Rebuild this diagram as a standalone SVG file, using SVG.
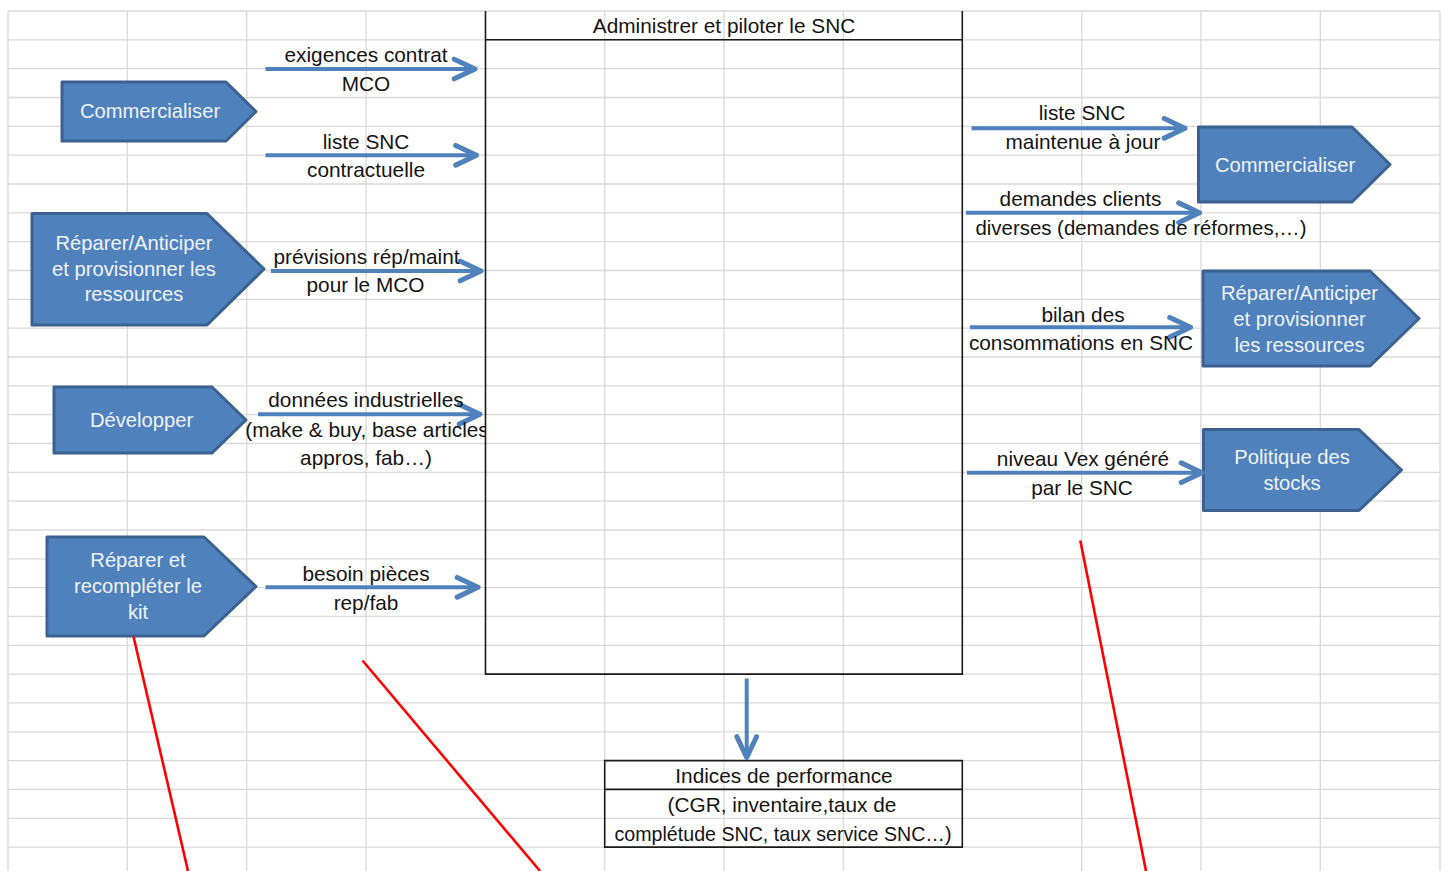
<svg xmlns="http://www.w3.org/2000/svg" width="1448" height="871" viewBox="0 0 1448 871">
  <defs>
    <style>
      .grid line { stroke: #d9d9d9; stroke-width: 1.3; }
      .frame { fill: none; stroke: #1a1a1a; stroke-width: 1.6; }
      .lbl { font-family: "Liberation Sans", Arial, sans-serif; font-size: 20.8px; fill: #141414; text-anchor: middle; }
      .step path { fill: #4f81bd; stroke: #3b6190; stroke-width: 3; stroke-linejoin: round; }
      .step text { font-family: "Liberation Sans", Arial, sans-serif; font-size: 20.2px; fill: #f0f3f8; text-anchor: middle; }
      .flow { fill: none; stroke: #4f81bd; stroke-width: 4; }
      .note { stroke: #ff0000; stroke-width: 2.6; }
    </style>
    <marker id="head" markerUnits="userSpaceOnUse" markerWidth="30" markerHeight="30" viewBox="-22 -12 26 24" refX="0" refY="0" orient="auto">
      <path d="M-18,-8.5 L0,0 L-18,8.5" fill="none" stroke="#4f81bd" stroke-width="4.4" stroke-linejoin="round" stroke-linecap="round"/>
    </marker>
    <clipPath id="boxclip">
      <rect x="0" y="0" width="486" height="871"/>
    </clipPath>
  </defs>

  <rect x="0" y="0" width="1448" height="871" fill="#ffffff"/>

  <!-- spreadsheet grid -->
  <g class="grid">
    <line x1="8" y1="11" x2="8" y2="871"/>
    <line x1="127.3" y1="11" x2="127.3" y2="871"/>
    <line x1="246.7" y1="11" x2="246.7" y2="871"/>
    <line x1="366" y1="11" x2="366" y2="871"/>
    <line x1="604.7" y1="11" x2="604.7" y2="871"/>
    <line x1="724" y1="11" x2="724" y2="871"/>
    <line x1="843.3" y1="11" x2="843.3" y2="871"/>
    <line x1="1081.7" y1="11" x2="1081.7" y2="871"/>
    <line x1="1201" y1="11" x2="1201" y2="871"/>
    <line x1="1320.3" y1="11" x2="1320.3" y2="871"/>
    <line x1="1440" y1="11" x2="1440" y2="871"/>
    <line x1="8" y1="11" x2="1440" y2="11"/>
    <line x1="8" y1="39.8" x2="1440" y2="39.8"/>
    <line x1="8" y1="68.7" x2="1440" y2="68.7"/>
    <line x1="8" y1="97.5" x2="1440" y2="97.5"/>
    <line x1="8" y1="126.3" x2="1440" y2="126.3"/>
    <line x1="8" y1="155.2" x2="1440" y2="155.2"/>
    <line x1="8" y1="184" x2="1440" y2="184"/>
    <line x1="8" y1="212.8" x2="1440" y2="212.8"/>
    <line x1="8" y1="241.6" x2="1440" y2="241.6"/>
    <line x1="8" y1="270.5" x2="1440" y2="270.5"/>
    <line x1="8" y1="299.3" x2="1440" y2="299.3"/>
    <line x1="8" y1="328.1" x2="1440" y2="328.1"/>
    <line x1="8" y1="357" x2="1440" y2="357"/>
    <line x1="8" y1="385.8" x2="1440" y2="385.8"/>
    <line x1="8" y1="414.6" x2="1440" y2="414.6"/>
    <line x1="8" y1="443.5" x2="1440" y2="443.5"/>
    <line x1="8" y1="472.3" x2="1440" y2="472.3"/>
    <line x1="8" y1="501.1" x2="1440" y2="501.1"/>
    <line x1="8" y1="530" x2="1440" y2="530"/>
    <line x1="8" y1="558.8" x2="1440" y2="558.8"/>
    <line x1="8" y1="587.6" x2="1440" y2="587.6"/>
    <line x1="8" y1="616.4" x2="1440" y2="616.4"/>
    <line x1="8" y1="645.3" x2="1440" y2="645.3"/>
    <line x1="8" y1="674.1" x2="1440" y2="674.1"/>
    <line x1="8" y1="702.9" x2="1440" y2="702.9"/>
    <line x1="8" y1="731.8" x2="1440" y2="731.8"/>
    <line x1="8" y1="760.6" x2="1440" y2="760.6"/>
    <line x1="8" y1="789.4" x2="1440" y2="789.4"/>
    <line x1="8" y1="818.3" x2="1440" y2="818.3"/>
    <line x1="8" y1="847.1" x2="1440" y2="847.1"/>
  </g>

  <!-- central process frame -->
  <g id="administrer">
    <path class="frame" d="M485.5,11 V674.1 H962.3 V11 M485.5,39.8 H962.3"/>
    <text class="lbl" x="724" y="33.3">Administrer et piloter le SNC</text>
  </g>

  <!-- performance indicators frame -->
  <g id="indices">
    <path class="frame" d="M604.7,760.6 H962.3 V847.1 H604.7 Z M604.7,789.4 H962.3"/>
    <text class="lbl" x="784" y="783">Indices de performance</text>
    <text class="lbl" x="782" y="811.8">(CGR, inventaire,taux de</text>
    <text class="lbl" x="783" y="840.6" textLength="337" lengthAdjust="spacingAndGlyphs">complétude SNC, taux service SNC…)</text>
  </g>

  <!-- input processes -->
  <g id="commercialiser-in" class="step">
    <path d="M62,82 H226 L256,111.5 L226,141 H62 Z"/>
    <text x="150" y="118.3">Commercialiser</text>
  </g>
  <g id="reparer-anticiper-in" class="step">
    <path d="M32,213.5 H207 L264,269 L207,325 H32 Z"/>
    <text x="134" y="250">Réparer/Anticiper</text>
    <text x="134" y="275.5">et provisionner les</text>
    <text x="134" y="301">ressources</text>
  </g>
  <g id="developper" class="step">
    <path d="M54,387 H212 L246,420 L212,453 H54 Z"/>
    <text x="141.5" y="426.7">Développer</text>
  </g>
  <g id="reparer-kit" class="step">
    <path d="M47,537 H204 L256,586.5 L204,636 H47 Z"/>
    <text x="138" y="567.3">Réparer et</text>
    <text x="138" y="593.3">recompléter le</text>
    <text x="138" y="618.8">kit</text>
  </g>

  <!-- output processes -->
  <g id="commercialiser-out" class="step">
    <path d="M1198.5,127 H1352 L1390,164.5 L1352,202 H1198.5 Z"/>
    <text x="1285" y="171.7">Commercialiser</text>
  </g>
  <g id="reparer-anticiper-out" class="step">
    <path d="M1203,271 H1370 L1419,318.5 L1370,366 H1203 Z"/>
    <text x="1299.5" y="300">Réparer/Anticiper</text>
    <text x="1299.5" y="326.2">et provisionner</text>
    <text x="1299.5" y="351.7">les ressources</text>
  </g>
  <g id="politique-stocks" class="step">
    <path d="M1203.5,429.5 H1359 L1401.5,470 L1359,510.5 H1203.5 Z"/>
    <text x="1292" y="464">Politique des</text>
    <text x="1292" y="490">stocks</text>
  </g>

  <!-- information flows -->
  <g id="connectors">
    <line class="flow" x1="265.5" y1="69" x2="475" y2="69" marker-end="url(#head)"/>
    <line class="flow" x1="265.5" y1="155.3" x2="476.5" y2="155.3" marker-end="url(#head)"/>
    <line class="flow" x1="271" y1="271" x2="481" y2="271" marker-end="url(#head)"/>
    <line class="flow" x1="258" y1="414.3" x2="480" y2="414.3" marker-end="url(#head)"/>
    <line class="flow" x1="265.5" y1="587.3" x2="478" y2="587.3" marker-end="url(#head)"/>
    <line class="flow" x1="971.5" y1="128.3" x2="1185" y2="128.3" marker-end="url(#head)"/>
    <line class="flow" x1="966" y1="212.7" x2="1199.5" y2="212.7" marker-end="url(#head)"/>
    <line class="flow" x1="970" y1="327.3" x2="1190.5" y2="327.3" marker-end="url(#head)"/>
    <line class="flow" x1="967" y1="472.7" x2="1202" y2="472.7" marker-end="url(#head)"/>
    <line class="flow" x1="746.7" y1="678.5" x2="746.7" y2="757.5" marker-end="url(#head)"/>

    <text class="lbl" x="366" y="62">exigences contrat</text>
    <text class="lbl" x="366" y="91">MCO</text>
    <text class="lbl" x="366" y="148.5">liste SNC</text>
    <text class="lbl" x="366" y="177">contractuelle</text>
    <text class="lbl" x="366.5" y="263.8">prévisions rép/maint</text>
    <text class="lbl" x="365.5" y="292">pour le MCO</text>
    <text class="lbl" x="366" y="407">données industrielles</text>
    <text class="lbl" x="367" y="436.5" clip-path="url(#boxclip)">(make &amp; buy, base articles</text>
    <text class="lbl" x="366" y="465.3">appros, fab…)</text>
    <text class="lbl" x="366" y="580.8">besoin pièces</text>
    <text class="lbl" x="366" y="609.8">rep/fab</text>

    <text class="lbl" x="1082" y="119.5">liste SNC</text>
    <text class="lbl" x="1083" y="148.5">maintenue à jour</text>
    <text class="lbl" x="1080.5" y="206.2">demandes clients</text>
    <text class="lbl" x="1141" y="235" textLength="331" lengthAdjust="spacingAndGlyphs">diverses (demandes de réformes,…)</text>
    <text class="lbl" x="1083" y="321.6">bilan des</text>
    <text class="lbl" x="1081" y="350.3">consommations en SNC</text>
    <text class="lbl" x="1083" y="465.5">niveau Vex généré</text>
    <text class="lbl" x="1082" y="494.5">par le SNC</text>
  </g>

  <!-- red annotation strokes -->
  <g id="annotations">
    <line class="note" x1="133.5" y1="636.5" x2="188" y2="871"/>
    <line class="note" x1="362.5" y1="660.5" x2="540" y2="871"/>
    <line class="note" x1="1080.3" y1="540.5" x2="1146" y2="871"/>
  </g>
</svg>
